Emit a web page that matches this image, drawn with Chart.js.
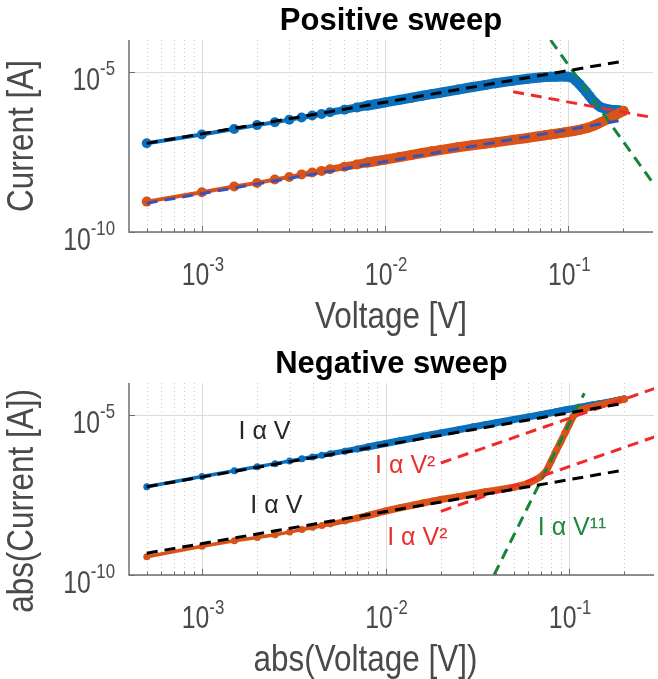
<!DOCTYPE html>
<html>
<head>
<meta charset="utf-8">
<script src="https://cdn.jsdelivr.net/npm/chart.js@4.4.1/dist/chart.umd.min.js"></script>
<style>
  html, body { margin: 0; padding: 0; background: #fff; }
  .panel { position: absolute; left: 0; width: 658px; }
  #posPanel { top: 0; height: 340px; }
  #negPanel { top: 340px; height: 339px; }
</style>
</head>
<body>
<div class="panel" id="posPanel"><canvas id="posChart" width="658" height="340"></canvas></div>
<div class="panel" id="negPanel"><canvas id="negChart" width="658" height="339"></canvas></div>
<script>
/* ---------- sweep voltages (abs value, V) ---------- */
const voltage = [5e-4, 1e-3, 1.5e-3, 2e-3, 2.5e-3, 3e-3, 3.5e-3, 4e-3, 4.5e-3, 5e-3,
  6e-3, 7e-3, 8e-3, 9e-3, 0.01, 0.012, 0.014, 0.016, 0.018, 0.02,
  0.025, 0.03, 0.035, 0.04, 0.05, 0.06, 0.07, 0.075, 0.08, 0.085,
  0.09, 0.095, 0.1, 0.105, 0.11, 0.115, 0.12, 0.125, 0.13, 0.135,
  0.14, 0.145, 0.15, 0.16, 0.17, 0.18, 0.19, 0.2];

/* ---------- positive sweep currents (A) ---------- */
const posForward = [5.9e-8, 1.12e-7, 1.66e-7, 2.19e-7, 2.69e-7, 3.24e-7, 3.80e-7, 4.37e-7, 4.90e-7, 5.50e-7,
  6.61e-7, 7.76e-7, 8.91e-7, 1.0e-6, 1.12e-6, 1.35e-6, 1.58e-6, 1.82e-6, 2.04e-6, 2.24e-6,
  2.82e-6, 3.39e-6, 3.89e-6, 4.47e-6, 5.37e-6, 6.17e-6, 6.76e-6, 6.92e-6, 7.08e-6, 7.16e-6,
  7.24e-6, 7.24e-6, 7.08e-6, 6.61e-6, 5.37e-6, 4.17e-6, 3.16e-6, 2.40e-6, 1.82e-6, 1.38e-6,
  1.10e-6, 9.12e-7, 7.94e-7, 7.08e-7, 6.61e-7, 6.46e-7, 6.31e-7, 6.03e-7];
const posReturn = [8.91e-10, 1.74e-9, 2.63e-9, 3.39e-9, 4.37e-9, 5.25e-9, 6.31e-9, 7.24e-9, 8.13e-9, 9.12e-9,
  1.10e-8, 1.29e-8, 1.48e-8, 1.66e-8, 1.82e-8, 2.19e-8, 2.57e-8, 2.95e-8, 3.31e-8, 3.63e-8,
  4.47e-8, 5.13e-8, 5.75e-8, 6.31e-8, 7.59e-8, 8.71e-8, 1.0e-7, 1.06e-7, 1.12e-7, 1.17e-7,
  1.23e-7, 1.29e-7, 1.35e-7, 1.41e-7, 1.48e-7, 1.55e-7, 1.66e-7, 1.74e-7, 1.86e-7, 2.00e-7,
  2.19e-7, 2.40e-7, 2.63e-7, 3.16e-7, 3.72e-7, 4.47e-7, 5.25e-7, 6.03e-7];

/* ---------- negative sweep currents, abs (A) ---------- */
const negForward = [5.75e-8, 1.20e-7, 1.82e-7, 2.40e-7, 3.02e-7, 3.63e-7, 4.27e-7, 4.90e-7, 5.50e-7, 6.17e-7,
  7.41e-7, 8.71e-7, 1.00e-6, 1.15e-6, 1.29e-6, 1.58e-6, 1.86e-6, 2.19e-6, 2.45e-6, 2.75e-6,
  3.47e-6, 4.27e-6, 5.01e-6, 5.75e-6, 7.24e-6, 8.71e-6, 1.02e-5, 1.10e-5, 1.17e-5, 1.26e-5,
  1.35e-5, 1.43e-5, 1.51e-5, 1.58e-5, 1.66e-5, 1.74e-5, 1.82e-5, 1.91e-5, 2.00e-5, 2.09e-5,
  2.14e-5, 2.24e-5, 2.29e-5, 2.45e-5, 2.63e-5, 2.82e-5, 3.02e-5, 3.16e-5];
const negReturn = [3.72e-10, 7.94e-10, 1.17e-9, 1.48e-9, 1.82e-9, 2.19e-9, 2.63e-9, 3.09e-9, 3.55e-9, 3.98e-9,
  4.90e-9, 6.03e-9, 7.24e-9, 8.51e-9, 1.00e-8, 1.26e-8, 1.51e-8, 1.78e-8, 2.04e-8, 2.29e-8,
  2.82e-8, 3.39e-8, 3.98e-8, 4.47e-8, 5.50e-8, 7.24e-8, 1.17e-7, 1.74e-7, 3.72e-7, 7.59e-7,
  1.45e-6, 2.75e-6, 5.01e-6, 8.91e-6, 1.20e-5, 1.41e-5, 1.55e-5, 1.66e-5, 1.74e-5, 1.82e-5,
  1.91e-5, 2.00e-5, 2.09e-5, 2.29e-5, 2.51e-5, 2.75e-5, 2.95e-5, 3.16e-5];

/* ---------- power-law guide lines: end points [V, A] ---------- */
const posOhmicHigh = [[5e-4, 5.89e-8], [0.2, 2.19e-5]];
const posOhmicLow  = [[5e-4, 7.94e-10], [0.2, 3.16e-7]];
const posInverse   = [[0.05, 2.40e-6], [0.3, 3.63e-7]];
const posSteep     = [[0.08, 1e-4], [0.3, 2.57e-9]];
const negOhmicHigh = [[5e-4, 5.75e-8], [0.2, 2.34e-5]];
const negOhmicLow  = [[5e-4, 4.79e-10], [0.2, 1.91e-7]];
const negSquareHigh = [[0.02, 3.16e-7], [0.3, 7.08e-5]];
const negSquareLow  = [[0.02, 9.77e-9], [0.3, 2.19e-6]];
const negSteep      = [[0.039, 1e-10], [0.121, 4.79e-5]];

/* ---------- axes ---------- */
const xMajorTicks = [1e-3, 1e-2, 1e-1];
const xTickExp = ['-3', '-2', '-1'];
const xMinorTicks = [5e-4, 6e-4, 7e-4, 8e-4, 9e-4, 2e-3, 3e-3, 4e-3, 5e-3, 6e-3, 7e-3, 8e-3, 9e-3,
  2e-2, 3e-2, 4e-2, 5e-2, 6e-2, 7e-2, 8e-2, 9e-2, 2e-1];
const yTicks = [1e-10, 1e-5];
const yTickExp = ['-10', '-5'];

/* ---------- text on the lower panel [text, V, A, colour] ---------- */
const negNotes = [
  ['I α V', 2.19e-3, 2.95e-6, '#262626'],
  ['I α V', 2.54e-3, 1.45e-8, '#262626'],
  ['I α V²', 0.0128, 2.57e-7, '#e8312f'],
  ['I α V²', 0.0149, 1.45e-9, '#e8312f'],
  ['I α V¹¹', 0.1038, 2.95e-9, '#1d8a3e']
];

const BLUE = '#0a70bd';
const ORANGE = '#d95319';
const TICK_SQUEEZE = 0.8;
const LABEL_SQUEEZE = 0.85;
const FONT = '"Liberation Sans", Arial, sans-serif';
const AXIS_GREY = '#6f6f6f';
const TEXT_GREY = '#4a4a4a';

const toPoints = (xs, ys) => xs.map((v, k) => ({ x: v, y: ys[k] }));
const pairPoints = pairs => pairs.map(p => ({ x: p[0], y: p[1] }));

function squeezed(ctx, str, x, y, sx) {
  ctx.save();
  ctx.translate(x, y);
  ctx.scale(sx, 1);
  ctx.fillText(str, 0, 0);
  ctx.restore();
}

// draws "10" with a raised exponent, baseline of the "10" at y
function powerLabel(ctx, exp, x, y, align) {
  ctx.font = '31px ' + FONT;
  const wBase = ctx.measureText('10').width * TICK_SQUEEZE;
  ctx.font = '21px ' + FONT;
  const wExp = ctx.measureText(exp).width * TICK_SQUEEZE;
  const left = align === 'center' ? x - (wBase + wExp) / 2 : x - wBase - wExp;
  ctx.textAlign = 'left';
  ctx.textBaseline = 'alphabetic';
  ctx.font = '31px ' + FONT;
  squeezed(ctx, '10', left, y, TICK_SQUEEZE);
  ctx.font = '21px ' + FONT;
  squeezed(ctx, exp, left + wBase, y - 14.5, TICK_SQUEEZE);
}

const axisPainter = {
  id: 'axisPainter',
  beforeDatasetsDraw(chart) {
    const { ctx, chartArea: a, scales: { x, y } } = chart;
    ctx.save();
    ctx.lineWidth = 1;
    ctx.strokeStyle = '#cbcbcb';
    ctx.setLineDash([1, 3]);
    xMinorTicks.forEach(v => {
      const px = Math.round(x.getPixelForValue(v)) + 0.5;
      ctx.beginPath(); ctx.moveTo(px, a.top); ctx.lineTo(px, a.bottom); ctx.stroke();
    });
    ctx.setLineDash([]);
    ctx.strokeStyle = '#dcdcdc';
    xMajorTicks.forEach(v => {
      const px = Math.round(x.getPixelForValue(v)) + 0.5;
      ctx.beginPath(); ctx.moveTo(px, a.top); ctx.lineTo(px, a.bottom); ctx.stroke();
    });
    yTicks.forEach(v => {
      const py = Math.round(y.getPixelForValue(v)) + 0.5;
      ctx.beginPath(); ctx.moveTo(a.left, py); ctx.lineTo(a.right, py); ctx.stroke();
    });
    ctx.restore();
  },
  afterDatasetsDraw(chart, args, opts) {
    const { ctx, chartArea: a, scales: { x, y } } = chart;
    ctx.save();
    // axis lines, ticks pointing inwards
    ctx.strokeStyle = AXIS_GREY;
    ctx.lineWidth = 1.5;
    ctx.beginPath();
    ctx.moveTo(a.left, a.top); ctx.lineTo(a.left, a.bottom); ctx.lineTo(a.right, a.bottom);
    ctx.stroke();
    ctx.lineWidth = 1;
    xMinorTicks.forEach(v => {
      const px = Math.round(x.getPixelForValue(v)) + 0.5;
      ctx.beginPath(); ctx.moveTo(px, a.bottom); ctx.lineTo(px, a.bottom - 3.5); ctx.stroke();
    });
    xMajorTicks.forEach(v => {
      const px = Math.round(x.getPixelForValue(v)) + 0.5;
      ctx.beginPath(); ctx.moveTo(px, a.bottom); ctx.lineTo(px, a.bottom - 6); ctx.stroke();
    });
    yTicks.forEach(v => {
      const py = Math.round(y.getPixelForValue(v)) + 0.5;
      ctx.beginPath(); ctx.moveTo(a.left, py); ctx.lineTo(a.left + 6, py); ctx.stroke();
    });

    // tick labels
    ctx.fillStyle = TEXT_GREY;
    xMajorTicks.forEach((v, k) => powerLabel(ctx, xTickExp[k], x.getPixelForValue(v) + 1, a.bottom + 53, 'center'));
    yTicks.forEach((v, k) => powerLabel(ctx, yTickExp[k], a.left - 14, y.getPixelForValue(v) + 17.5, 'right'));

    // axis titles
    ctx.font = '37px ' + FONT;
    ctx.textAlign = 'center';
    ctx.textBaseline = 'alphabetic';
    squeezed(ctx, opts.xLabel, (a.left + a.right) / 2 + opts.xShift, a.bottom + 96, LABEL_SQUEEZE);
    ctx.save();
    ctx.translate(33, (a.top + a.bottom) / 2 + opts.yShift);
    ctx.rotate(-Math.PI / 2);
    squeezed(ctx, opts.yLabel, 0, 0, LABEL_SQUEEZE);
    ctx.restore();

    // panel title
    ctx.fillStyle = '#000';
    ctx.font = 'bold 31px ' + FONT;
    ctx.fillText(opts.title, (a.left + a.right) / 2, a.top - 10);

    // annotations placed in data coordinates
    ctx.font = '25px ' + FONT;
    ctx.textBaseline = 'middle';
    (opts.notes || []).forEach(n => {
      ctx.fillStyle = n[3];
      ctx.fillText(n[0], x.getPixelForValue(n[1]), y.getPixelForValue(n[2]));
    });
    ctx.restore();
  }
};

// line width grows from the thin marker trace into the dense band
function bandWidth(v, thin, band) {
  const t = Math.log10(v / 3e-3) / Math.log10(8e-3 / 3e-3);
  return thin + (band - thin) * Math.min(1, Math.max(0, t));
}

function sweepSet(data, color, radius, thin, band) {
  return {
    data: data,
    borderColor: color,
    backgroundColor: color,
    pointBackgroundColor: color,
    pointBorderWidth: 0,
    pointRadius: radius,
    borderWidth: thin,
    borderCapStyle: 'round',
    borderJoinStyle: 'round',
    segment: { borderWidth: c => bandWidth(c.p0.parsed.x, thin, band) },
    clip: false,
    order: color === BLUE ? 3 : 2
  };
}

function guideSet(data, color) {
  return {
    data: data,
    borderColor: color,
    borderWidth: 3,
    borderDash: [11, 7],
    pointRadius: 0,
    clip: 0,
    order: 1
  };
}

function makePanel(canvasId, padding, datasets, texts) {
  return new Chart(document.getElementById(canvasId), {
    type: 'line',
    data: { datasets: datasets },
    options: {
      responsive: false,
      animation: false,
      events: [],
      layout: { padding: padding },
      scales: {
        x: { type: 'logarithmic', min: 4e-4, max: 0.29, display: false },
        y: { type: 'logarithmic', min: 1e-10, max: 1e-4, display: false }
      },
      plugins: {
        legend: { display: false },
        tooltip: { enabled: false },
        axisPainter: texts
      }
    },
    plugins: [axisPainter]
  });
}

makePanel('posChart', { left: 129, top: 40, right: 0, bottom: 108 }, [
  sweepSet(toPoints(voltage, posForward), BLUE, 5, 4, 10),
  sweepSet(toPoints(voltage, posReturn), ORANGE, 5, 4, 10),
  guideSet(pairPoints(posOhmicHigh), '#000000'),
  guideSet(pairPoints(posOhmicLow), '#3a52b2'),
  guideSet(pairPoints(posInverse), '#f02a2a'),
  guideSet(pairPoints(posSteep), '#16853a')
], { title: 'Positive sweep', xLabel: 'Voltage [V]', yLabel: 'Current [A]', xShift: 0, yShift: 0, notes: [] });

makePanel('negChart', { left: 129, top: 43, right: 0, bottom: 104 }, [
  sweepSet(toPoints(voltage, negForward), BLUE, 3.5, 3.5, 7),
  sweepSet(toPoints(voltage, negReturn), ORANGE, 3.5, 3.5, 7),
  guideSet(pairPoints(negOhmicHigh), '#000000'),
  guideSet(pairPoints(negOhmicLow), '#000000'),
  guideSet(pairPoints(negSquareHigh), '#f02a2a'),
  guideSet(pairPoints(negSquareLow), '#f02a2a'),
  guideSet(pairPoints(negSteep), '#16853a')
], { title: 'Negative sweep', xLabel: 'abs(Voltage [V])', yLabel: 'abs(Current [A])', xShift: -26, yShift: 22, notes: negNotes });
</script>
</body>
</html>
